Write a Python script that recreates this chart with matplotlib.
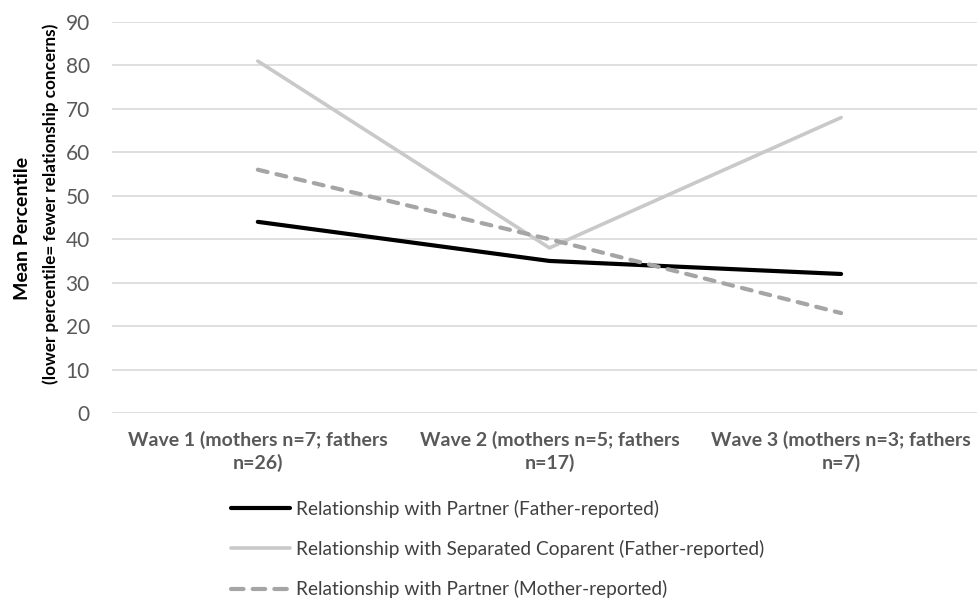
import matplotlib.pyplot as plt
from matplotlib.lines import Line2D

# Data
waves = ["Wave 1 (mothers n=7; fathers\nn=26)",
         "Wave 2 (mothers n=5; fathers\nn=17)",
         "Wave 3 (mothers n=3; fathers\nn=7)"]
partner_father = [44, 35, 32]
coparent_father = [81, 38, 68]
partner_mother = [56, 40, 23]
series_labels = ["Relationship with Partner (Father-reported)",
                 "Relationship with Separated Coparent (Father-reported)",
                 "Relationship with Partner (Mother-reported)"]
yticks = list(range(0, 100, 10))

plt.rcParams["font.family"] = ["Lato", "DejaVu Sans"]

fig = plt.figure(figsize=(9.77, 5.99), dpi=100)
ax = fig.add_axes([112 / 977, 1 - 413 / 599, 1 - 112 / 977, (413 - 22) / 599])

x = list(range(len(waves)))
ax.plot(x, partner_father, color="black", lw=3.0, solid_capstyle="round",
        solid_joinstyle="round", zorder=4)
ax.plot(x, coparent_father, color="#c9c9c9", lw=2.6, solid_capstyle="round",
        zorder=3)
ax.plot(x, partner_mother, color="#a5a5a5", lw=3.0, dashes=(2.4, 2.2),
        dash_capstyle="round", zorder=5)

ax.set_ylim(0, 90)
ax.set_xlim(-0.5, 2.466)
ax.set_yticks(yticks)
ax.set_xticks(x)
ax.set_xticklabels(waves, fontweight="bold", color="#595959", fontsize=14,
                   linespacing=1.3)
ax.tick_params(axis="y", labelsize=15, labelcolor="#595959", length=0, pad=16)
ax.tick_params(axis="x", length=0, pad=13)
ax.grid(axis="y", color="#d9d9d9", lw=1.2)
ax.set_axisbelow(True)
for s in ax.spines.values():
    s.set_visible(False)

# two-line y label: bold title + subtitle
fig.text(23 / 977, 1 - 228 / 599, "Mean Percentile", rotation=90,
         ha="center", va="center", fontweight="bold", fontsize=14)
fig.text(51 / 977, 1 - 204 / 599, "(lower percentile= fewer relationship concerns)",
         rotation=90, ha="center", va="center", fontweight="bold", fontsize=12.3)

handles = [
    Line2D([], [], color="black", lw=3.0, solid_capstyle="round"),
    Line2D([], [], color="#c9c9c9", lw=2.6, solid_capstyle="round"),
    Line2D([], [], color="#a5a5a5", lw=3.0, dashes=(3.0, 2.2), dash_capstyle="round"),
]
fig.legend(handles, series_labels, loc="upper left",
           bbox_to_anchor=(231 / 977, 1 - 500 / 599), frameon=False,
           fontsize=13.8, labelcolor="#404040", handlelength=3.1,
           handletextpad=0.3, labelspacing=1.15, borderaxespad=0,
           borderpad=0)

fig.savefig("out.png", dpi=100)
